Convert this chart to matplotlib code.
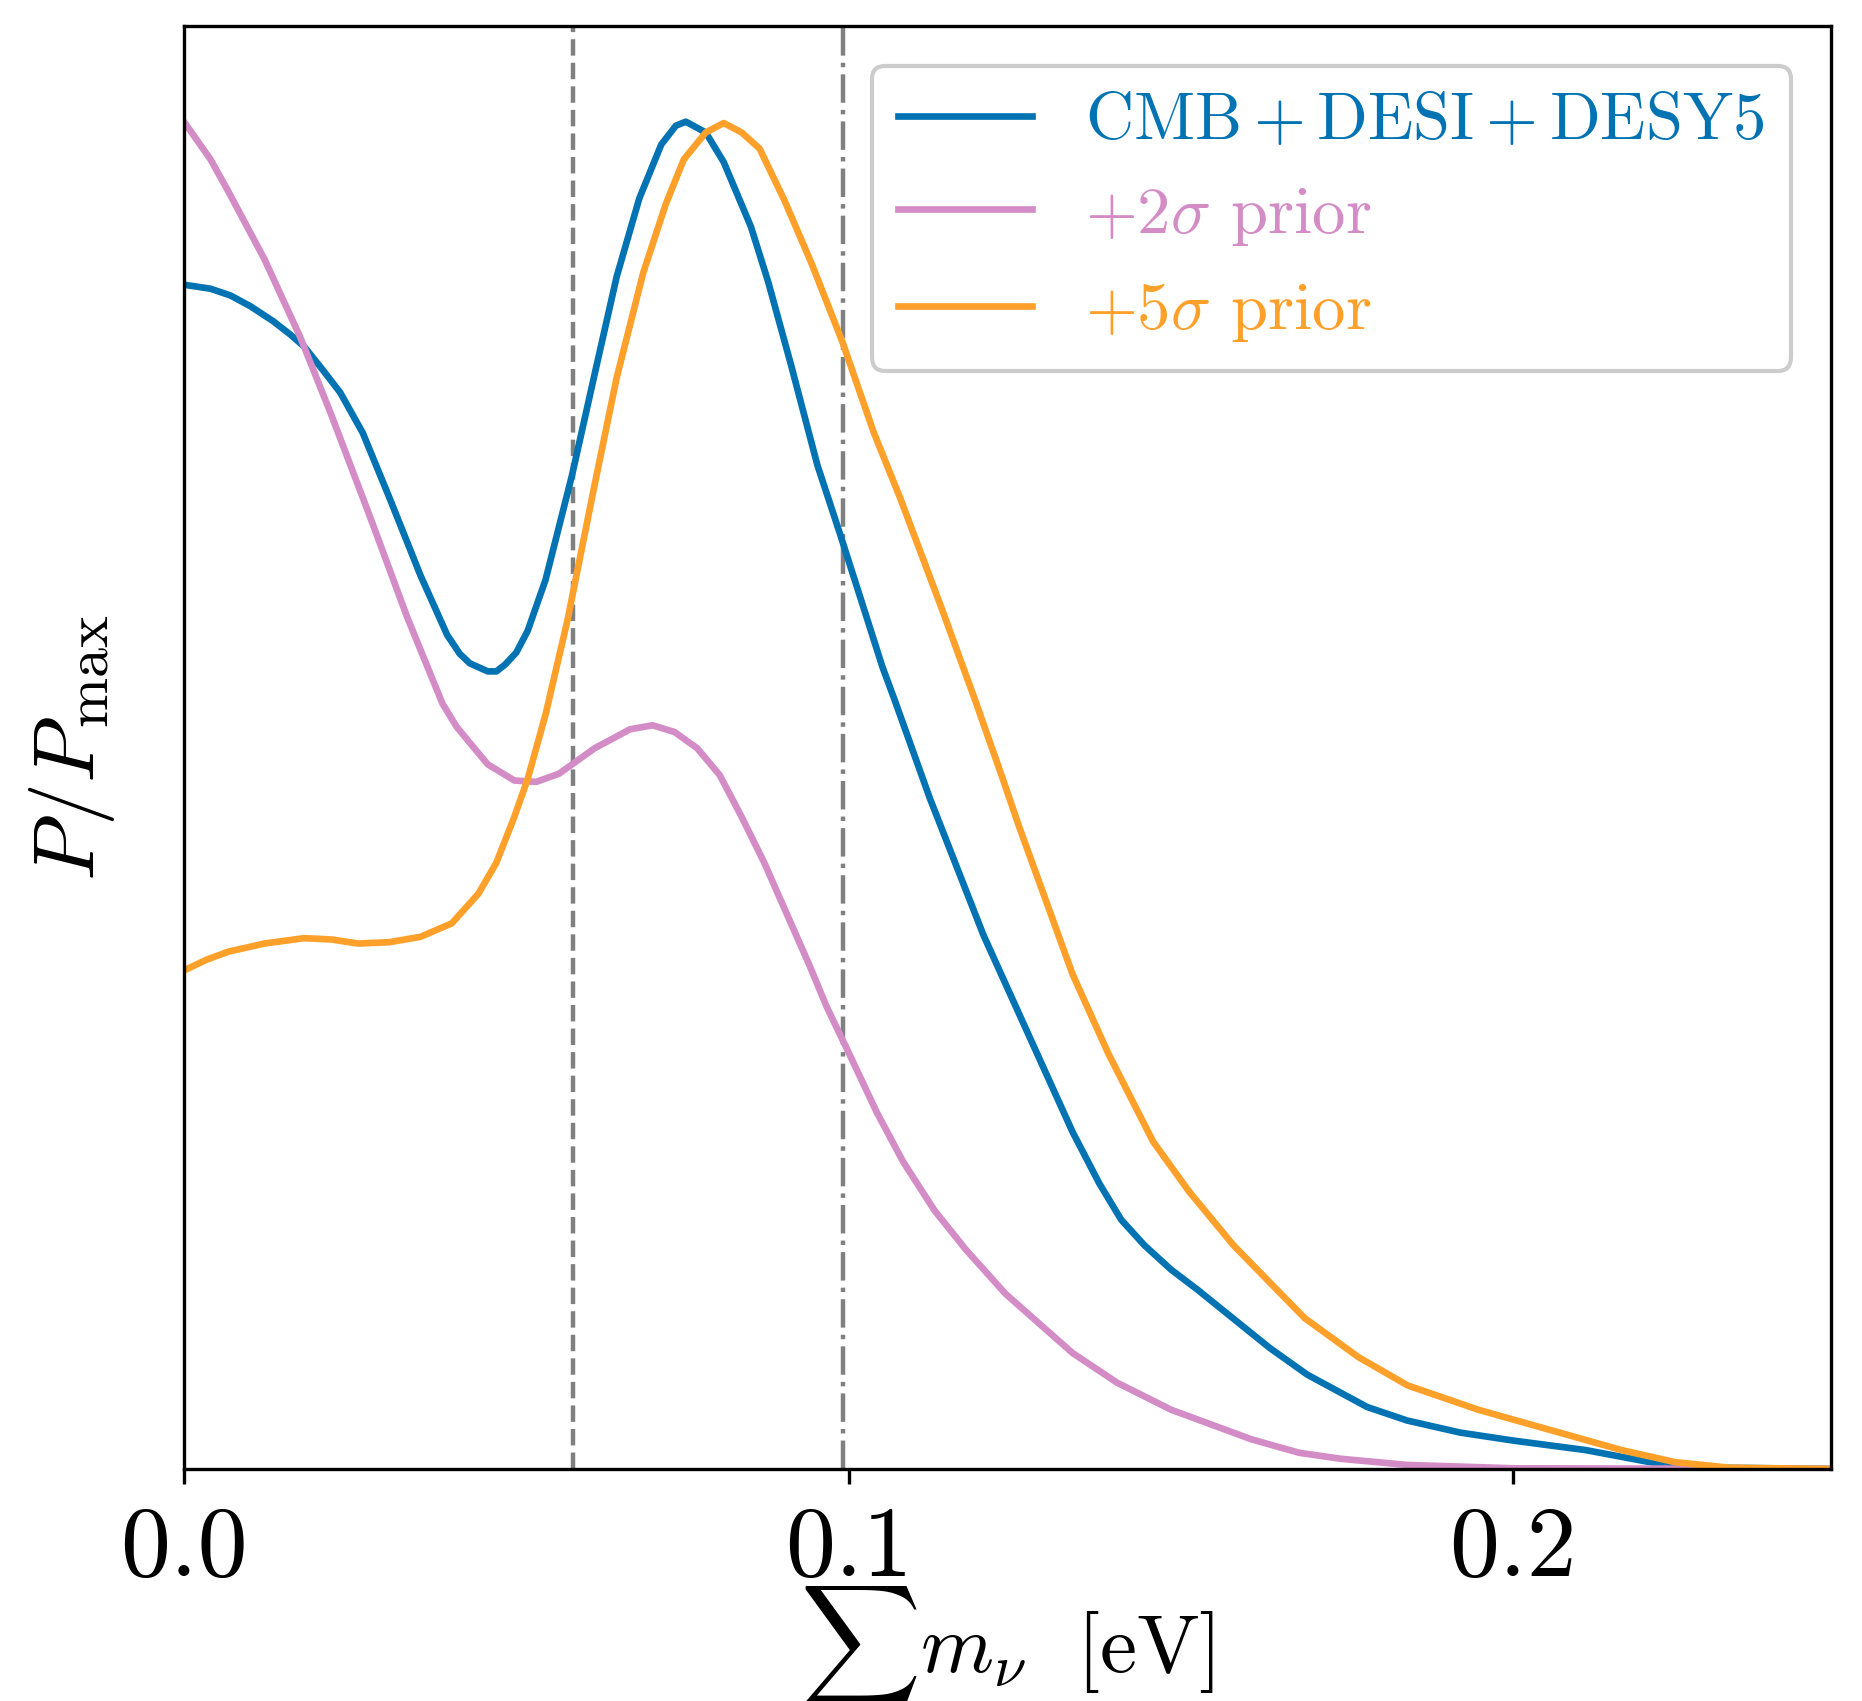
import matplotlib
matplotlib.use("Agg")
import matplotlib.pyplot as plt

plt.rcParams['mathtext.fontset'] = 'cm'
plt.rcParams['font.family'] = 'serif'
plt.rcParams['font.serif'] = ['cmr10']
plt.rcParams['axes.formatter.use_mathtext'] = True

# ---- data ----
blue_x = [0.0000, 0.0040, 0.0070, 0.0100, 0.0134, 0.0160, 0.0181, 0.0210, 0.0235, 0.0269,
          0.0309, 0.0356, 0.0396, 0.0415, 0.0430, 0.0457, 0.0470, 0.0483, 0.0500, 0.0517,
          0.0544, 0.0584, 0.0618, 0.0651, 0.0685, 0.0718, 0.0740, 0.0755, 0.0785, 0.0812,
          0.0853, 0.0879, 0.0913, 0.0953, 0.0987, 0.1020, 0.1051, 0.1069, 0.1122, 0.1203,
          0.1270, 0.1337, 0.1377, 0.1410, 0.1445, 0.1485, 0.1525, 0.1633, 0.1690, 0.1780,
          0.1840, 0.1920, 0.2001, 0.2109, 0.2217, 0.2298, 0.2478]
blue_y = [0.879, 0.876, 0.871, 0.863, 0.852, 0.842, 0.833, 0.815, 0.799, 0.769,
          0.721, 0.663, 0.619, 0.605, 0.598, 0.592, 0.592, 0.597, 0.606, 0.622,
          0.660, 0.738, 0.813, 0.885, 0.943, 0.983, 0.997, 1.000, 0.992, 0.970,
          0.922, 0.881, 0.820, 0.745, 0.694, 0.643, 0.595, 0.571, 0.498, 0.396,
          0.323, 0.250, 0.212, 0.185, 0.166, 0.148, 0.133, 0.090, 0.070, 0.046,
          0.036, 0.027, 0.021, 0.014, 0.004, 0.001, 0.000]

pink_x = [0.0000, 0.0040, 0.0067, 0.0121, 0.0175, 0.0222, 0.0282, 0.0336, 0.0389, 0.0410,
          0.0430, 0.0457, 0.0497, 0.0530, 0.0564, 0.0584, 0.0618, 0.0671, 0.0705, 0.0738,
          0.0772, 0.0806, 0.0839, 0.0873, 0.0906, 0.0940, 0.0967, 0.1001, 0.1042, 0.1082,
          0.1129, 0.1176, 0.1236, 0.1337, 0.1404, 0.1485, 0.1606, 0.1678, 0.1740, 0.1840,
          0.2001, 0.2478]
pink_y = [1.000, 0.972, 0.948, 0.898, 0.840, 0.782, 0.704, 0.632, 0.568, 0.551,
          0.539, 0.523, 0.511, 0.510, 0.516, 0.523, 0.535, 0.549, 0.552, 0.547,
          0.535, 0.515, 0.484, 0.450, 0.413, 0.375, 0.343, 0.308, 0.265, 0.228,
          0.192, 0.163, 0.130, 0.086, 0.064, 0.044, 0.022, 0.012, 0.0076, 0.003,
          0.0005, 0.000]

orange_x = [0.0000, 0.0034, 0.0067, 0.0121, 0.0181, 0.0222, 0.0262, 0.0309, 0.0356, 0.0403,
            0.0443, 0.0470, 0.0497, 0.0517, 0.0544, 0.0577, 0.0618, 0.0651, 0.0691, 0.0725,
            0.0752, 0.0785, 0.0812, 0.0839, 0.0866, 0.0903, 0.0944, 0.0991, 0.1038, 0.1078,
            0.1139, 0.1190, 0.1232, 0.1257, 0.1337, 0.1391, 0.1458, 0.1512, 0.1579, 0.1686,
            0.1767, 0.1841, 0.1947, 0.2055, 0.2163, 0.2244, 0.2324, 0.2478]
orange_y = [0.370, 0.378, 0.384, 0.390, 0.394, 0.393, 0.390, 0.391, 0.395, 0.405,
            0.427, 0.450, 0.484, 0.512, 0.560, 0.630, 0.731, 0.810, 0.888, 0.939,
            0.972, 0.992, 0.999, 0.992, 0.980, 0.942, 0.895, 0.836, 0.769, 0.720,
            0.640, 0.571, 0.512, 0.476, 0.367, 0.308, 0.243, 0.206, 0.166, 0.112,
            0.083, 0.062, 0.044, 0.029, 0.014, 0.005, 0.001, 0.000]

labels = [r'$\mathrm{CMB + DESI + DESY5}$', r'$+2\sigma$ prior', r'$+5\sigma$ prior']
colors = ['#0173b2', '#d38cc6', '#ffa02a']
vlines = [0.0586, 0.0991]
xticks = [0.0, 0.1, 0.2]
xtick_labels = ['0.0', '0.1', '0.2']

# ---- figure ----
fig = plt.figure(figsize=(9.31, 8.505), dpi=200)
ax = fig.add_axes([0.0988, 0.1364, 0.8846, 0.8483])

for xs, ys, lab, c in zip([blue_x, pink_x, orange_x], [blue_y, pink_y, orange_y], labels, colors):
    ax.plot(xs, ys, color=c, lw=2.4, label=lab, solid_joinstyle='round')

ax.axvline(vlines[0], color='gray', ls='--', lw=1.6, zorder=0)
ax.axvline(vlines[1], color='gray', ls='-.', lw=1.6, zorder=0)

ax.set_xlim(0, 0.2478)
ax.set_ylim(0, 1.071)
ax.set_xticks(xticks)
ax.set_xticklabels(xtick_labels)
ax.set_yticks([])
ax.tick_params(axis='x', labelsize=36, length=5.4, width=1.2, direction='out', pad=8)
for s in ax.spines.values():
    s.set_linewidth(1.2)

ax.set_xlabel(r'$\sum m_\nu\ \ [\mathrm{eV}]$', fontsize=30, labelpad=-4)
ax.set_ylabel(r'$P/P_{\rm max}$', fontsize=31, labelpad=24)

leg = ax.legend(loc='upper right', fontsize=24, labelcolor='linecolor',
                frameon=True, fancybox=True, edgecolor='0.8', framealpha=1.0,
                labelspacing=0.5, borderaxespad=0.6)
leg.get_frame().set_linewidth(1.5)

fig.savefig('out.png', dpi=200)
